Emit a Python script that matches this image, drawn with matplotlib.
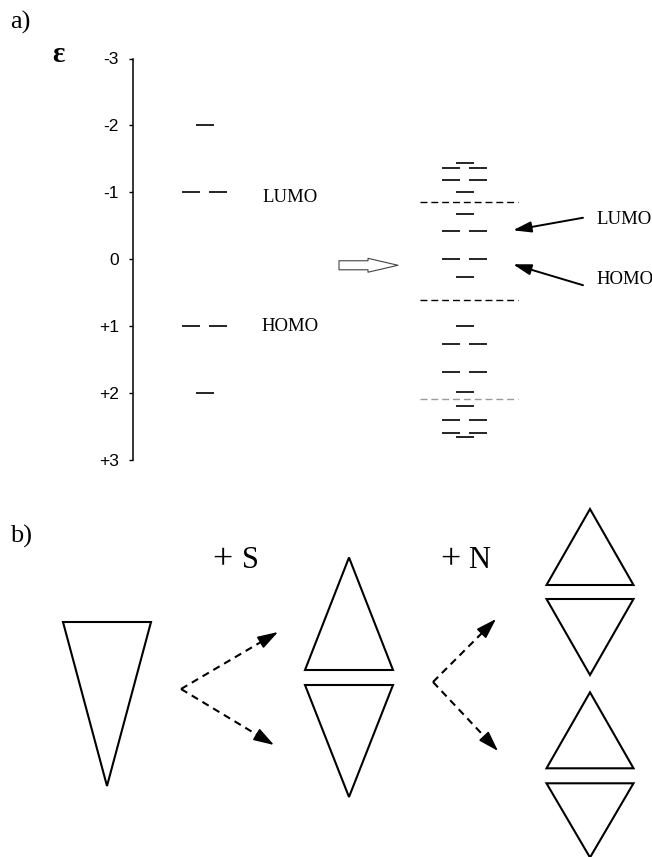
import matplotlib.pyplot as plt
from matplotlib.patches import FancyArrowPatch, Polygon
import numpy as np

plt.rcParams['font.family'] = ['Liberation Sans', 'DejaVu Sans']
SERIF = ['Liberation Serif', 'DejaVu Serif']

# a) orbital energies (epsilon) and degeneracies
left_eps = [-2, -1, 1, 2]
left_deg = [1, 2, 2, 1]

right_eps = [-1.44, -1.36, -1.19, -1.01, -0.68, -0.42, 0.0, 0.26,
             1.0, 1.26, 1.68, 1.99, 2.19, 2.40, 2.59, 2.66]
right_deg = [1, 2, 2, 1, 1, 2, 2, 1, 1, 2, 2, 1, 1, 2, 2, 1]

gap_eps = [-0.85, 0.61, 2.09]
gap_colors = ['black', 'black', '#9a9a9a']

tick_vals = [-3, -2, -1, 0, 1, 2, 3]
tick_text = ['-3', '-2', '-1', '0', '+1', '+2', '+3']

# b) triangles: (x centre, base y, apex y, half width), pixel units
triangles = [(107, 622, 786, 44),
             (349, 670, 557.5, 44), (349, 685, 797, 44),
             (590, 585, 509, 43.5), (590, 599, 675, 43.5),
             (590, 768.3, 692.3, 43.5), (590, 783.3, 857.5, 43.5)]
# dashed arrows: (start, tip)
split_arrows = [((181, 689), (278, 632)), ((181, 689), (274, 745)),
                ((433, 682), (496, 619)), ((433, 682), (498, 751))]

W, H = 652, 857
fig = plt.figure(figsize=(W / 100, H / 100), dpi=100)

ax_b = fig.add_axes([0, 0, 1, 1])
ax_b.set_xlim(0, W)
ax_b.set_ylim(H, 0)
ax_b.axis('off')

x_axis, y_top, y_bot = 132.7, 58.5, 460
ax_a = fig.add_axes([x_axis / W, 1 - y_bot / H, (W - x_axis) / W, (y_bot - y_top) / H])
ax_a.set_xlim(x_axis, W)
ax_a.set_ylim(3, -3)
ax_a.patch.set_visible(False)
for s in ['top', 'right', 'bottom']:
    ax_a.spines[s].set_visible(False)
ax_a.spines['left'].set_linewidth(1.1)
ax_a.set_xticks([])
ax_a.set_yticks(tick_vals)
ax_a.set_yticklabels(tick_text)
ax_a.tick_params(axis='y', direction='out', length=2.8, width=1.0, pad=7, labelsize=12.5)


def draw_levels(ax, eps, deg, xc):
    for e, d in zip(eps, deg):
        if d == 1:
            ax.hlines(e, xc - 9, xc + 9, color='black', lw=1.2)
        else:
            ax.hlines(e, xc - 22.5, xc - 4.5, color='black', lw=1.2)
            ax.hlines(e, xc + 4.5, xc + 22.5, color='black', lw=1.2)


draw_levels(ax_a, left_eps, left_deg, 204.5)
draw_levels(ax_a, right_eps, right_deg, 464.6)
for e, c in zip(gap_eps, gap_colors):
    ax_a.hlines(e, 420, 518, color=c, lw=1.0, linestyle=(0, (5, 2.8)))

ax_a.text(262, -0.93, 'LUMO', family=SERIF, fontsize=13.5, va='center', ha='left')
ax_a.text(261, 1.0, 'HOMO', family=SERIF, fontsize=13.5, va='center', ha='left')
ax_a.text(596, -0.6, 'LUMO', family=SERIF, fontsize=13.5, va='center', ha='left')
ax_a.text(596, 0.31, 'HOMO', family=SERIF, fontsize=13.5, va='center', ha='left')

# pointer arrows
for tail, tip in [((583, -0.62), (513, -0.433)), ((583, 0.388), (513, 0.075))]:
    ax_a.add_patch(FancyArrowPatch(tail, tip, arrowstyle='-|>,head_length=1.1,head_width=0.33',
                                   mutation_scale=10, color='black', lw=1.4,
                                   shrinkA=0, shrinkB=0))

# hollow arrow
ax_a.add_patch(FancyArrowPatch((339, 0.09), (398, 0.09),
                               arrowstyle='simple,head_length=2.16,head_width=1.0,tail_width=0.65',
                               mutation_scale=10, fc='white', ec='#444444', lw=0.8,
                               shrinkA=0, shrinkB=0))

ax_b.text(10, 22, 'a)', family=SERIF, fontsize=19, va='center', ha='left')
ax_b.text(58.5, 54, 'ε', family=SERIF, fontsize=21, va='center', ha='center', fontweight='bold')
ax_b.text(10, 536, 'b)', family=SERIF, fontsize=19, va='center', ha='left')
# "+ S" / "+ N": the plus sign is drawn larger than the letter, as in the original
ax_b.text(222.5, 561, '+', family=SERIF, fontsize=26, va='center', ha='center')
ax_b.text(250, 561, 'S', family=SERIF, fontsize=22, va='center', ha='center')
ax_b.text(450, 561, '+', family=SERIF, fontsize=26, va='center', ha='center')
ax_b.text(479, 561, 'N', family=SERIF, fontsize=22, va='center', ha='center')

for xc, yb, ya, hw in triangles:
    ax_b.add_patch(Polygon([(xc - hw, yb), (xc + hw, yb), (xc, ya)], closed=True,
                           fill=False, ec='black', lw=1.5, joinstyle='miter', clip_on=False))

head_px = 18
for (x0, y0), (x1, y1) in split_arrows:
    d = np.array([x1 - x0, y1 - y0], dtype=float)
    u = d / np.hypot(*d)
    bx, by = x1 - u[0] * head_px, y1 - u[1] * head_px
    ax_b.plot([x0, bx], [y0, by], color='black', lw=1.5, linestyle=(0, (3.5, 2.5)))
    ax_b.add_patch(FancyArrowPatch((bx, by), (x1, y1), arrowstyle='-|>,head_length=1.25,head_width=0.4',
                                   mutation_scale=10, color='black', lw=1.2,
                                   shrinkA=0, shrinkB=0))

fig.savefig('out.png', dpi=100)
